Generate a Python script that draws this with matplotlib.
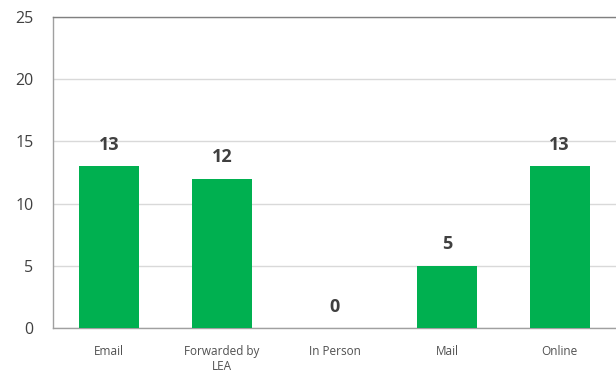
import matplotlib
matplotlib.use("Agg")
from matplotlib import pyplot as plt

categories = ["Email", "Forwarded by\nLEA", "In Person", "Mail", "Online"]
counts = [13, 12, 0, 5, 13]
y_ticks = [0, 5, 10, 15, 20, 25]

plt.rcParams['font.family'] = ['Open Sans', 'DejaVu Sans']

fig = plt.figure(figsize=(6.16, 3.79), dpi=100)
ax = fig.add_axes([53/616, 1 - 328/379, 1 - 53/616, (328 - 17)/379])

x = list(range(len(categories)))
bars = ax.bar(x, counts, width=0.53, color="#00B050", zorder=3)

for xi, v in zip(x, counts):
    ax.text(xi, v + 1.0, str(v), ha="center", va="bottom",
            fontsize=13, fontweight="bold", color="#404040")

ax.set_xlim(-0.5, 4.5)
ax.set_ylim(0, 25)
ax.set_yticks(y_ticks)
ax.set_xticks(x)
ax.set_xticklabels(categories, fontsize=8.5, color="#505050")
ax.tick_params(axis="y", labelsize=11.5, labelcolor="#404040", length=0, pad=14)
ax.tick_params(axis="x", length=0, pad=12)
ax.grid(axis="y", color="#d9d9d9", linewidth=1, zorder=0)

for side in ["left", "bottom", "top"]:
    ax.spines[side].set_color("#a0a0a0")
    ax.spines[side].set_linewidth(1)
ax.spines["top"].set_color("#808080")
ax.spines["right"].set_visible(False)

fig.savefig("out.png", dpi=100)
